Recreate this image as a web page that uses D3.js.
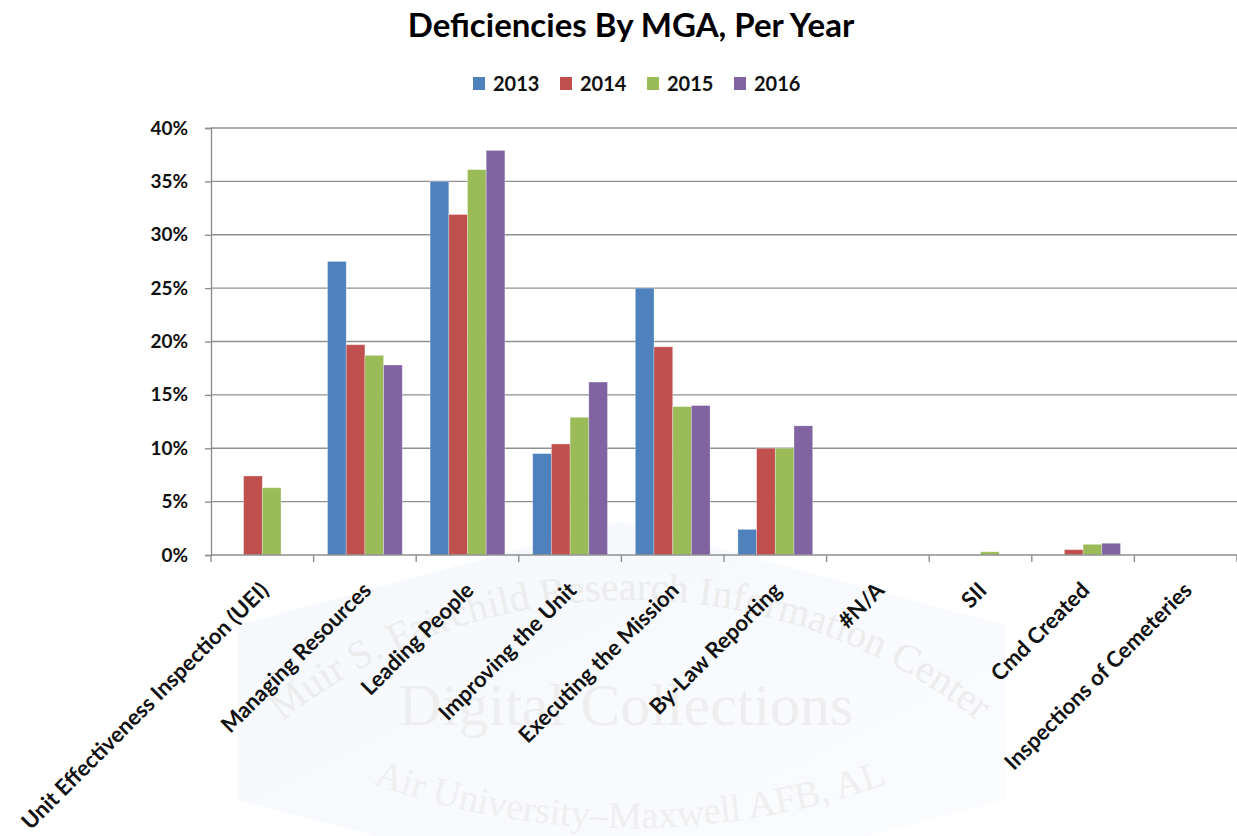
<!DOCTYPE html>
<html>
<head>
<meta charset="utf-8">
<script src="https://cdn.jsdelivr.net/npm/d3@7"></script>
<style>
  html, body { margin: 0; padding: 0; background: #fff; }
  svg { display: block; }
</style>
</head>
<body>
<svg id="chart" width="1237" height="836"></svg>
<script>
// Inspection deficiencies by Major Graded Area (MGA), share per year (%)
const categories = [
  "Unit Effectiveness Inspection (UEI)",
  "Managing Resources",
  "Leading People",
  "Improving the Unit",
  "Executing the Mission",
  "By-Law Reporting",
  "#N/A",
  "SII",
  "Cmd Created",
  "Inspections of Cemeteries"
];
const years = ["2013", "2014", "2015", "2016"];
const values2013 = [0, 27.5, 35.0, 9.5, 25.0, 2.4, 0, 0, 0, 0];
const values2014 = [7.4, 19.7, 31.9, 10.4, 19.5, 10.0, 0, 0, 0.5, 0];
const values2015 = [6.3, 18.7, 36.1, 12.9, 13.9, 10.0, 0, 0.3, 1.0, 0];
const values2016 = [0, 17.8, 37.9, 16.2, 14.0, 12.1, 0, 0, 1.1, 0];
const yTicks = [0, 5, 10, 15, 20, 25, 30, 35, 40];
const colors = ["#4F81BD", "#C0504D", "#9BBB59", "#8064A2"];

const seriesValues = [values2013, values2014, values2015, values2016];

const SANS = "Lato, 'Open Sans', sans-serif";
const SERIF = "'Liberation Serif', 'DejaVu Serif', serif";

const svg = d3.select("#chart");
const plot = { left: 211, right: 1237, top: 128, bottom: 555 };

const x = d3.scaleBand().domain(categories).range([plot.left, plot.right]).paddingInner(0).paddingOuter(0);
const xInner = d3.scaleBand().domain(years).range([0, x.bandwidth()]).paddingInner(0).paddingOuter(0.745);
const y = d3.scaleLinear().domain([0, 40]).range([plot.bottom, plot.top]);
const color = d3.scaleOrdinal().domain(years).range(colors);

const defs = svg.append("defs");

// ---- Archive watermark, kept faint in the background ----
const wm = svg.append("g").attr("pointer-events", "none");
const grad = defs.append("linearGradient").attr("id", "wmFill")
  .attr("x1", "0").attr("y1", "0").attr("x2", "1").attr("y2", "1");
grad.append("stop").attr("offset", "0").attr("stop-color", "#eef3fa");
grad.append("stop").attr("offset", "1").attr("stop-color", "#f8fafd");
wm.append("path")
  .attr("d", "M238,625 L620,522 L1005,625 L1005,800 L620,900 L238,800 Z")
  .attr("fill", "url(#wmFill)").attr("fill-opacity", 0.6);

// Lay a string out along a circular arc using per-glyph x / y / rotate lists.
// dir = 1: arc bulges upward (centre below); dir = -1: arc sags downward.
function arcText(str, cx, cy, r, dir, size, fill) {
  const t = wm.append("text")
    .style("font-family", SERIF).attr("font-size", size)
    .attr("fill", fill).text(str);
  const node = t.node();
  const widths = [];
  for (let i = 0; i < str.length; i++) widths.push(node.getSubStringLength(i, 1));
  const total = d3.sum(widths);
  let s = -total / 2;
  const xs = [], ys = [], rs = [];
  widths.forEach(w => {
    const a = s / r;
    xs.push(cx + r * Math.sin(a));
    ys.push(cy - dir * r * Math.cos(a));
    rs.push(dir * a * 180 / Math.PI);
    s += w;
  });
  t.attr("x", xs.map(v => v.toFixed(1)).join(" "))
   .attr("y", ys.map(v => v.toFixed(1)).join(" "))
   .attr("rotate", rs.map(v => v.toFixed(1)).join(" "));
}

arcText("Muir S. Fairchild Research Information Center", 630, 1160, 560, 1, 40, "#ececec");

wm.append("text")
  .attr("x", 626).attr("y", 725)
  .attr("text-anchor", "middle")
  .style("font-family", SERIF).attr("font-size", 60)
  .attr("fill", "#eeeeee")
  .text("Digital Collections");

arcText("Air University–Maxwell AFB, AL", 630, 60, 768, -1, 38, "#efefef");

// ---- Title ----
svg.append("text")
  .attr("x", 631).attr("y", 37)
  .attr("text-anchor", "middle")
  .style("font-family", SANS)
  .attr("font-size", 33).attr("font-weight", 700)
  .attr("fill", "#000")
  .text("Deficiencies By MGA, Per Year");

// ---- Legend ----
const legend = svg.append("g").attr("transform", "translate(473,0)");
years.forEach((yr, i) => {
  const g = legend.append("g").attr("transform", `translate(${i * 87},0)`);
  g.append("rect").attr("x", 0).attr("y", 77).attr("width", 12).attr("height", 13)
    .attr("fill", color(yr));
  g.append("text").attr("x", 20).attr("y", 91)
    .style("font-family", SANS)
    .attr("font-size", 20).attr("font-weight", 700).attr("fill", "#111")
    .text(yr);
});

// ---- Horizontal gridlines ----
svg.append("g")
  .selectAll("line")
  .data(yTicks.filter(t => t > 0))
  .join("line")
  .attr("x1", plot.left).attr("x2", plot.right)
  .attr("y1", d => y(d)).attr("y2", d => y(d))
  .attr("stroke", "#8f8f8f").attr("stroke-width", 1.4);

// ---- Y axis ----
const yAxis = d3.axisLeft(y).tickValues(yTicks).tickSize(6).tickPadding(17)
  .tickFormat(d => d + "%");
const yg = svg.append("g").attr("transform", `translate(${plot.left},0)`).call(yAxis)
  .attr("font-size", 19).attr("font-family", null);
yg.select(".domain").attr("stroke", "#8f8f8f").attr("stroke-width", 1.4);
yg.selectAll(".tick line").attr("stroke", "#8f8f8f").attr("stroke-width", 1.4);
yg.selectAll(".tick text")
  .style("font-family", SANS)
  .attr("font-size", 19).attr("font-weight", 700).attr("fill", "#111");

// ---- Bars ----
const groups = svg.append("g")
  .selectAll("g")
  .data(categories)
  .join("g")
  .attr("transform", d => `translate(${x(d)},0)`);

groups.selectAll("rect")
  .data((c, ci) => years.map((yr, si) => ({ yr, v: seriesValues[si][ci] })))
  .join("rect")
  .attr("x", d => xInner(d.yr))
  .attr("width", xInner.bandwidth())
  .attr("y", d => y(d.v))
  .attr("height", d => y(0) - y(d.v))
  .attr("fill", d => color(d.yr))
  .attr("stroke", "rgba(255,255,255,0.35)")
  .attr("stroke-width", 0.8);

// ---- Category axis with tick marks between categories ----
const boundaries = categories.map(c => x(c)).concat([plot.right]);
const xg = svg.append("g");
xg.append("line")
  .attr("x1", plot.left).attr("x2", plot.right)
  .attr("y1", y(0)).attr("y2", y(0))
  .attr("stroke", "#8f8f8f").attr("stroke-width", 1.4);
xg.selectAll("line.tk")
  .data(boundaries)
  .join("line").attr("class", "tk")
  .attr("x1", d => d).attr("x2", d => d)
  .attr("y1", y(0)).attr("y2", y(0) + 7)
  .attr("stroke", "#8f8f8f").attr("stroke-width", 1.4);

xg.selectAll("text")
  .data(categories)
  .join("text")
  .attr("transform", d => `translate(${x(d) + x.bandwidth() / 2 - 4},${y(0) + 25}) rotate(-45)`)
  .attr("text-anchor", "end")
  .attr("dy", "0.75em")
  .style("font-family", SANS)
  .attr("font-size", 22).attr("font-weight", 700).attr("fill", "#111")
  .text(d => d);
</script>
</body>
</html>
